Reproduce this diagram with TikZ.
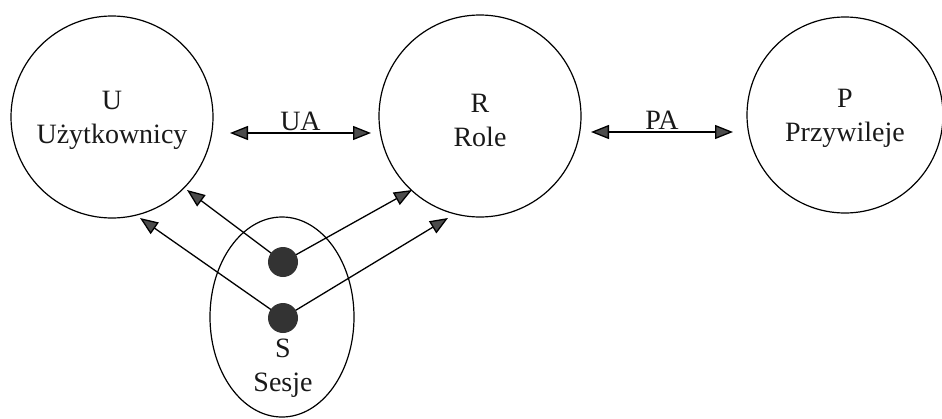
\documentclass[tikz,border=0pt]{standalone}
\usepackage{fontspec}
\setmainfont{Liberation Serif}
\usetikzlibrary{arrows.meta,shapes.geometric}
\begin{document}
\begin{tikzpicture}[x=1pt,y=-1pt,
  ent/.style={draw,circle,line width=1.2pt,minimum size=#1,inner sep=0pt},
  lbl/.style={font=\fontsize{28}{34}\selectfont,align=center,text=black!90},
  tip/.style={},
  conn/.style={line width=1.3pt,-{Triangle[length=18pt,width=14pt,fill=black!70]}},
  dconn/.style={line width=1.3pt,{Triangle[length=18pt,width=14pt,fill=black!70]}-{Triangle[length=18pt,width=14pt,fill=black!70]}},
  dot/.style={circle,fill=black!80,minimum size=30pt,inner sep=0pt}]
\useasboundingbox (0,0) rectangle (942,418);
\node[ent=202pt] (U) at (112,117) {};
\node[ent=202pt] (R) at (480,116) {};
\node[ent=196pt] (P) at (845,115) {};
\node[draw,ellipse,line width=1.2pt,minimum width=144pt,minimum height=200pt,inner sep=0pt] (S) at (282,317) {};
\node[lbl] (Ut) at (112,120) {U\\Użytkownicy};
\node[lbl] (Rt) at (480,120) {R\\Role};
\node[lbl] (Pt) at (845,118) {P\\Przywileje};
\node[lbl] (St) at (283,368) {S\\Sesje};
\coordinate (ua1) at (230,133);
\coordinate (ua2) at (371,133);
\coordinate (pa1) at (591,132);
\coordinate (pa2) at (733,132);
\draw[dconn] (ua1) -- (ua2) node[lbl,midway,above=-2pt] (UA) {UA};
\draw[dconn] (pa1) -- (pa2) node[lbl,midway,above=-1pt] (PA) {PA};
\coordinate (d1) at (283,262);
\coordinate (d2) at (283,318);
\coordinate (t1) at (187,190);
\coordinate (t2) at (412,190);
\coordinate (t3) at (140,218);
\coordinate (t4) at (448,218);
\draw[conn] (d1) -- (t1);
\draw[conn] (d1) -- (t2);
\draw[conn] (d2) -- (t3);
\draw[conn] (d2) -- (t4);
\node[dot] (D1) at (d1) {};
\node[dot] (D2) at (d2) {};
\end{tikzpicture}
\end{document}
